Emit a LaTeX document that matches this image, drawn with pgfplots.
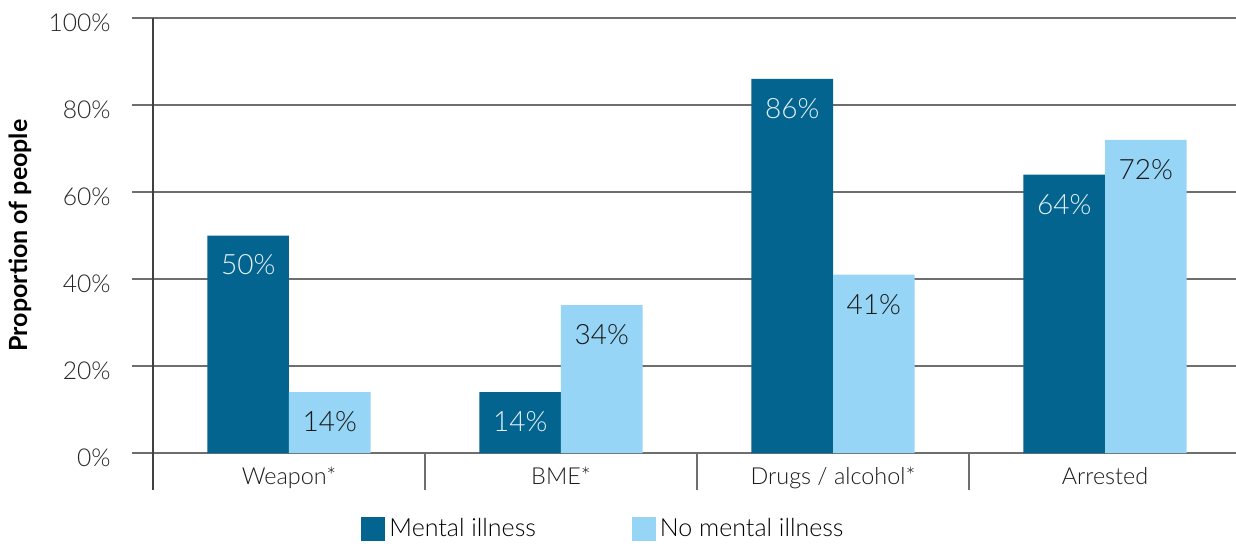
\documentclass[border=0pt]{standalone}
\usepackage{fontspec}
\IfFontExistsTF{Lato Light}{\setmainfont{Lato}[UprightFont={* Light},BoldFont={* Bold}]}{\setmainfont{Lato}}
\usepackage{pgfplots}
\pgfplotsset{compat=1.18}
\definecolor{darkb}{HTML}{02648F}
\definecolor{lightb}{HTML}{96D5F5}
\definecolor{gridc}{HTML}{6E6E6E}
\definecolor{lbltxt}{HTML}{E4F1F8}
\begin{document}
\begin{tikzpicture}
\useasboundingbox (-76.5pt,-45pt) rectangle (541.5pt,226.5pt);
\begin{axis}[
  at={(0,0)}, anchor=south west,
  scale only axis, width=544pt, height=217.5pt,
  xmin=-0.5, xmax=3.5, ymin=0, ymax=100,
  ybar=0pt, bar width=0.3,
  clip=false,
  axis line style={draw=none},
  xtick={0,1,2,3},
  xticklabels={Weapon*, BME*, Drugs / alcohol*, Arrested},
  xtick style={draw=none},
  ytick={0,20,40,60,80,100},
  yticklabels={0\%,20\%,40\%,60\%,80\%,100\%},
  ytick pos=left,
  tick align=outside,
  major tick length=10.5pt,
  ytick style={draw=gridc, line width=0.6pt},
  ymajorgrids,
  grid style={draw=gridc, line width=0.6pt},
  yticklabel style={anchor=east, inner sep=0pt, xshift=-10.5pt, yshift=-2.5pt, font=\fontsize{12.3pt}{14pt}\selectfont, text=black!85},
  xticklabel style={anchor=north, inner sep=0pt, yshift=3.5pt, font=\fontsize{11.7pt}{14pt}\selectfont, text=black!90},
  ylabel={\textbf{Proportion of people}},
  ylabel style={at={(axis description cs:-0.1222,0.5)}, anchor=center, font=\fontsize{12.5pt}{15pt}\selectfont},
  /pgf/number format/assume math mode=true,
  nodes near coords={\pgfmathprintnumber{\pgfplotspointmeta}\%},
  every node near coord/.append style={anchor=center, yshift=-14.75pt, font=\fontsize{14pt}{16pt}\selectfont},
  legend columns=2,
  legend style={at={(0.415,-0.175)}, anchor=center, draw=none, fill=none,
    font=\fontsize{12.5pt}{15pt}\selectfont,
    /tikz/every even column/.append style={column sep=46pt}},
  legend image code/.code={\fill[#1] (0pt,-6pt) rectangle (12pt,6pt);},
]
\addplot[fill=darkb, draw=none, every node near coord/.append style={text=lbltxt}] coordinates {(0,50) (1,14) (2,86) (3,64)};
\addlegendentry{Mental illness}
\addplot[fill=lightb, draw=none, every node near coord/.append style={text=black!90}] coordinates {(0,14) (1,34) (2,41) (3,72)};
\addlegendentry{No mental illness}
\draw[black!75, line width=0.6pt] (axis cs:-0.5,100) -- ([yshift=-18.5pt]axis cs:-0.5,0);
\pgfplotsinvokeforeach{0.5,1.5,2.5}{\draw[gridc, line width=0.8pt] (axis cs:#1,0) -- ([yshift=-18.5pt]axis cs:#1,0);}
\end{axis}
\end{tikzpicture}
\end{document}
